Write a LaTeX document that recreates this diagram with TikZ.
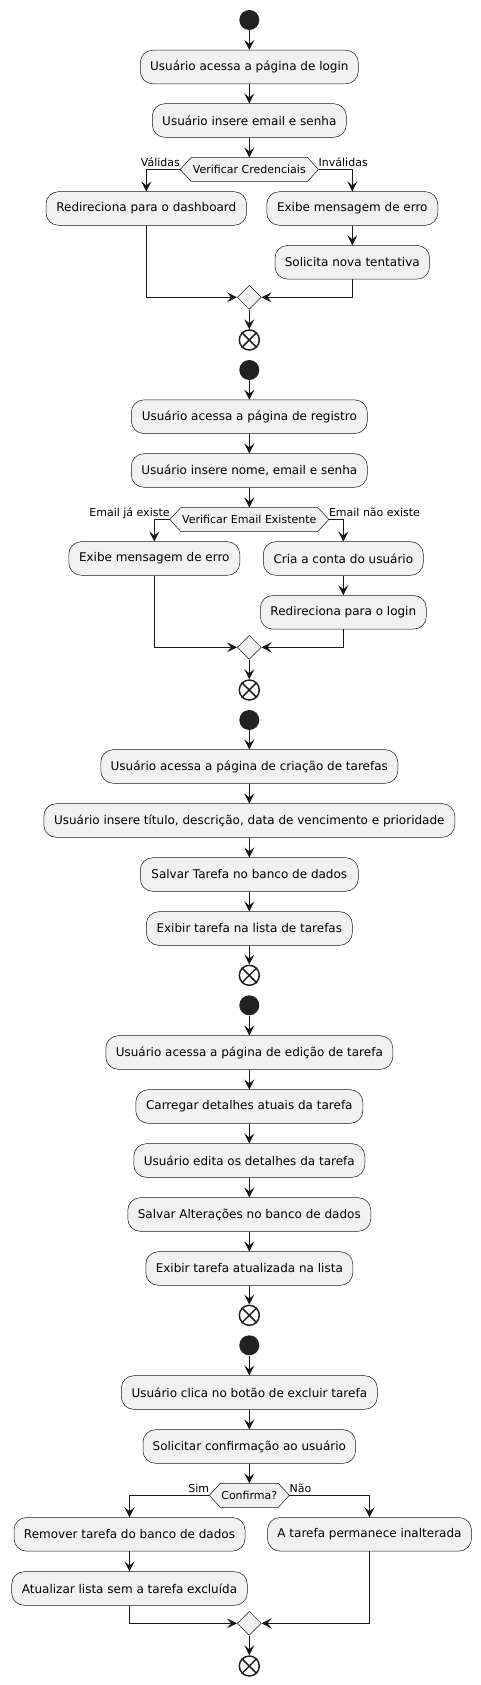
\documentclass[tikz,border=0pt]{standalone}
\usepackage{fontspec}
\setmainfont{DejaVu Sans}
\usetikzlibrary{arrows.meta,shapes.geometric}
\definecolor{lc}{HTML}{181818}
\definecolor{bf}{HTML}{F1F1F1}
\definecolor{sc}{HTML}{222222}
\tikzset{
  act/.style={rectangle, rounded corners=12.5pt, draw=lc, fill=bf, line width=0.5pt,
    minimum height=33.6pt, inner xsep=0pt, inner ysep=0pt, font=\fontsize{12}{14}\selectfont},
  hexbox/.style={rectangle, minimum height=23.6pt, inner sep=0pt, font=\fontsize{11}{13}\selectfont},
  hexline/.style={draw=lc, fill=bf, line width=0.5pt},
  arr/.style={-{Stealth[length=10pt,width=10pt,inset=4pt]}, line width=1pt, draw=lc},
  startnode/.style={circle, fill=sc, minimum size=20pt, inner sep=0pt},
  endnode/.style={circle, draw=sc, line width=1.5pt, minimum size=20pt, inner sep=0pt},
  mergenode/.style={diamond, draw=lc, fill=bf, line width=0.5pt, minimum width=24pt, minimum height=24pt, inner sep=0pt},
  lbl/.style={font=\fontsize{11}{13}\selectfont, inner sep=0pt},
}
\newcommand{\hexdraw}[2]{%
  \draw[hexline] (#1.west) -- ([xshift=11pt]#1.north west) -- ([xshift=-11pt]#1.north east) -- (#1.east) -- ([xshift=-11pt]#1.south east) -- ([xshift=11pt]#1.south west) -- cycle;
  \node[hexbox] at (#1.center) {#2};}
\newcommand{\crossend}[1]{\draw[draw=sc, line width=1.5pt] (#1.45) -- (#1.225) (#1.135) -- (#1.315);}
\begin{document}
\begin{tikzpicture}[x=1pt,y=-1pt]
\useasboundingbox (0,0) rectangle (481,1685);
% ---------- Section 1
\node[startnode] (s1) at (249.3,20) {};
\node[act, minimum width=218pt] (a1) at (249.3,67) {Usuário acessa a página de login};
\node[act, minimum width=194pt] (a2) at (249.3,120.5) {Usuário insere email e senha};
\node[hexbox, minimum width=138pt] (h1) at (249.3,169.5) {};
\node[act, minimum width=200.6pt] (a3) at (146.3,208.5) {Redireciona para o dashboard};
\node[act, minimum width=171pt] (a4) at (352.3,208.5) {Exibe mensagem de erro};
\node[act, minimum width=154.6pt] (a5) at (352.3,262.3) {Solicita nova tentativa};
\node[mergenode] (m1) at (249.3,297.3) {};
\node[endnode] (e1) at (249.3,340) {};
\hexdraw{h1}{Verificar Credenciais}
\crossend{e1}
\node[lbl, anchor=base east] (l1) at ([yshift=3pt]h1.west) {Válidas};
\node[lbl, anchor=base west] (l2) at ([yshift=3pt]h1.east) {Inválidas};
\draw[arr] (s1) -- (a1);
\draw[arr] (a1) -- (a2);
\draw[arr] (a2) -- (h1.north);
\draw[arr] (h1.west) -| (a3.north);
\draw[arr] (h1.east) -| (a4.north);
\draw[arr] (a4) -- (a5);
\draw[arr] (a3.south) |- (m1.west);
\draw[arr] (a5.south) |- (m1.east);
\draw[arr] (m1.south) -- (e1.north);
% ---------- Section 2
\node[startnode] (s2) at (249.3,370) {};
\node[act, minimum width=236pt] (b1) at (249.3,416.7) {Usuário acessa a página de registro};
\node[act, minimum width=236pt] (b2) at (249.3,470.5) {Usuário insere nome, email e senha};
\node[hexbox, minimum width=158.6pt] (h2) at (249.3,519.5) {};
\node[act, minimum width=171pt] (b3) at (154.3,558.5) {Exibe mensagem de erro};
\node[act, minimum width=160pt] (b4) at (343.3,558.5) {Cria a conta do usuário};
\node[act, minimum width=166pt] (b5) at (343.3,612.3) {Redireciona para o login};
\node[mergenode] (m2) at (249.3,647.3) {};
\node[endnode] (e2) at (249.3,690) {};
\hexdraw{h2}{Verificar Email Existente}
\crossend{e2}
\node[lbl, anchor=base east] (l3) at ([yshift=3pt]h2.west) {Email já existe};
\node[lbl, anchor=base west] (l4) at ([yshift=3pt]h2.east) {Email não existe};
\draw[arr] (s2) -- (b1);
\draw[arr] (b1) -- (b2);
\draw[arr] (b2) -- (h2.north);
\draw[arr] (h2.west) -| (b3.north);
\draw[arr] (h2.east) -| (b4.north);
\draw[arr] (b4) -- (b5);
\draw[arr] (b3.south) |- (m2.west);
\draw[arr] (b5.south) |- (m2.east);
\draw[arr] (m2.south) -- (e2.north);
% ---------- Section 3
\node[startnode] (s3) at (249.3,720) {};
\node[act, minimum width=297pt] (c1) at (249.3,766.5) {Usuário acessa a página de criação de tarefas};
\node[act, minimum width=411pt] (c2) at (249.3,820.5) {Usuário insere título, descrição, data de vencimento e prioridade};
\node[act, minimum width=218pt] (c3) at (249.3,874.5) {Salvar Tarefa no banco de dados};
\node[act, minimum width=206pt] (c4) at (249.3,928.5) {Exibir tarefa na lista de tarefas};
\node[endnode] (e3) at (249.3,975.3) {};
\crossend{e3}
\draw[arr] (s3) -- (c1);
\draw[arr] (c1) -- (c2);
\draw[arr] (c2) -- (c3);
\draw[arr] (c3) -- (c4);
\draw[arr] (c4.south) -- (e3.north);
% ---------- Section 4
\node[startnode] (s4) at (249.3,1005.3) {};
\node[act, minimum width=287pt] (d1) at (249.3,1052.5) {Usuário acessa a página de edição de tarefa};
\node[act, minimum width=227pt] (d2) at (249.3,1106.5) {Carregar detalhes atuais da tarefa};
\node[act, minimum width=231pt] (d3) at (249.3,1160.5) {Usuário edita os detalhes da tarefa};
\node[act, minimum width=243pt] (d4) at (249.3,1214.5) {Salvar Alterações no banco de dados};
\node[act, minimum width=207pt] (d5) at (249.3,1268.5) {Exibir tarefa atualizada na lista};
\node[endnode] (e4) at (249.3,1315.3) {};
\crossend{e4}
\draw[arr] (s4) -- (d1);
\draw[arr] (d1) -- (d2);
\draw[arr] (d2) -- (d3);
\draw[arr] (d3) -- (d4);
\draw[arr] (d4) -- (d5);
\draw[arr] (d5.south) -- (e4.north);
% ---------- Section 5
\node[startnode] (s5) at (249.3,1345.3) {};
\node[act, minimum width=256pt] (f1) at (249.3,1392.5) {Usuário clica no botão de excluir tarefa};
\node[act, minimum width=212.6pt] (f2) at (249.3,1446.5) {Solicitar confirmação ao usuário};
\node[hexbox, minimum width=79.7pt] (h3) at (249.3,1495.3) {};
\node[act, minimum width=231pt] (f3) at (129.5,1534.3) {Remover tarefa do banco de dados};
\node[act, minimum width=235.6pt] (f4) at (129.5,1588.5) {Atualizar lista sem a tarefa excluída};
\node[act, minimum width=204pt] (f5) at (369.5,1534.3) {A tarefa permanece inalterada};
\node[mergenode] (m3) at (249.3,1623.3) {};
\node[endnode] (e5) at (249.3,1666) {};
\hexdraw{h3}{Confirma?}
\crossend{e5}
\node[lbl, anchor=base east] (l5) at ([yshift=3pt]h3.west) {Sim};
\node[lbl, anchor=base west] (l6) at ([yshift=3pt]h3.east) {Não};
\draw[arr] (s5) -- (f1);
\draw[arr] (f1) -- (f2);
\draw[arr] (f2) -- (h3.north);
\draw[arr] (h3.west) -| (f3.north);
\draw[arr] (h3.east) -| (f5.north);
\draw[arr] (f3) -- (f4);
\draw[arr] (f4.south) |- (m3.west);
\draw[arr] (f5.south) |- (m3.east);
\draw[arr] (m3.south) -- (e5.north);
\end{tikzpicture}
\end{document}
